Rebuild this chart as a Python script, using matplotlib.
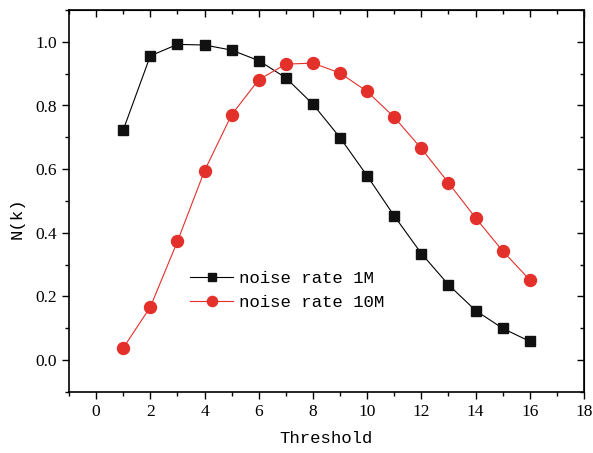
import numpy as np
import matplotlib.pyplot as plt
from matplotlib.ticker import MultipleLocator

# threshold values and N(k) for the two noise rates
threshold = np.arange(1, 17)
n_1m = [0.723, 0.956, 0.992, 0.990, 0.974, 0.941, 0.887, 0.804,
        0.699, 0.579, 0.453, 0.335, 0.237, 0.156, 0.100, 0.059]
n_10m = [0.038, 0.167, 0.373, 0.595, 0.771, 0.881, 0.930, 0.933,
         0.902, 0.844, 0.763, 0.665, 0.557, 0.447, 0.343, 0.252]
labels = ['noise rate 1M', 'noise rate 10M']

fig = plt.figure(figsize=(5.93, 4.53), dpi=100)
ax = fig.add_axes([69/593, 1 - 392/453, 515/593, 382/453])

ax.plot(threshold, n_1m, color='black', lw=0.8, marker='s', ms=7.4,
        mfc='#111111', mec='#111111', label=labels[0])
ax.plot(threshold, n_10m, color='#e3302a', lw=0.8, marker='o', ms=8.6,
        mfc='#e3302a', mec='#e3302a', label=labels[1])

ax.set_xlim(-1, 18)
ax.set_ylim(-0.1, 1.1)
ax.xaxis.set_major_locator(MultipleLocator(2))
ax.xaxis.set_minor_locator(MultipleLocator(1))
ax.yaxis.set_major_locator(MultipleLocator(0.2))
ax.yaxis.set_minor_locator(MultipleLocator(0.1))
ax.yaxis.set_major_formatter(plt.FuncFormatter(lambda v, p: f'{v:.1f}'))

ax.tick_params(which='both', direction='out', top=False, right=False,
               width=1.0, labelsize=12.5)
ax.tick_params(which='major', length=5)
ax.tick_params(which='minor', length=3)
for lab in ax.get_xticklabels() + ax.get_yticklabels():
    lab.set_family('Liberation Serif')

# mirrored ticks on top and right, pointing in
sec_x = ax.secondary_xaxis('top')
sec_x.xaxis.set_major_locator(MultipleLocator(2))
sec_x.xaxis.set_minor_locator(MultipleLocator(1))
sec_x.tick_params(which='both', direction='in', labeltop=False, width=1.0)
sec_x.tick_params(which='major', length=5)
sec_x.tick_params(which='minor', length=3)
sec_y = ax.secondary_yaxis('right')
sec_y.yaxis.set_major_locator(MultipleLocator(0.2))
sec_y.yaxis.set_minor_locator(MultipleLocator(0.1))
sec_y.tick_params(which='both', direction='in', labelright=False, width=1.0)
sec_y.tick_params(which='major', length=5)
sec_y.tick_params(which='minor', length=3)

for s in ax.spines.values():
    s.set_linewidth(1.2)

ax.set_xlabel('Threshold', family='Liberation Mono', fontsize=12.5)
ax.xaxis.set_label_coords(0.5, -0.102)
ax.set_ylabel('N(k)', family='Liberation Mono', fontsize=12.5)
ax.yaxis.set_label_coords(-0.087, 0.455)

ax.legend(loc='center left', bbox_to_anchor=(0.235, 0.266), frameon=False,
          prop={'family': 'Liberation Mono', 'size': 12.5},
          borderpad=0, borderaxespad=0, markerscale=0.85,
          handlelength=2.5, handletextpad=0.3, labelspacing=0.55)

fig.savefig('out.png', dpi=100)
